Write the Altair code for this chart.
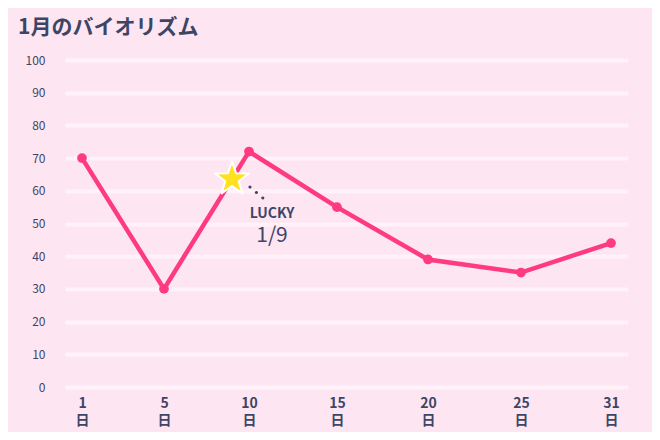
import altair as alt
import pandas as pd

# data
days = [1, 5, 10, 15, 20, 25, 31]
values = [70, 30, 72, 55, 39, 35, 44]
lucky_day = [9]
lucky_value = [63.6]
lucky_word = ["LUCKY"]
lucky_date = ["1/9"]
y_ticks = [0, 10, 20, 30, 40, 50, 60, 70, 80, 90, 100]

df = pd.DataFrame({"day": days, "value": values})
star_df = pd.DataFrame({"day": lucky_day, "value": lucky_value,
                        "word": lucky_word, "date": lucky_date})

FONT = "Noto Sans CJK JP"
INK = "#3d4566"
PINK = "#ff3b7f"
BG = "#fde5f1"

# piecewise x scale: day ticks are spaced roughly evenly across the plot
x_domain = [0.17] + days + [32.1]
x_range = [0, 17, 99, 184, 272, 363, 456, 546, 563]
x_scale = alt.Scale(type="linear", domain=x_domain, nice=False, zero=False,
                    range=x_range)
y_scale = alt.Scale(domain=[0, 100], nice=False, zero=True)

x_axis = alt.Axis(values=days, title=None, grid=False, domain=False,
                  ticks=False, tickSize=0, labelPadding=9,
                  labelExpr="[datum.label, '日']",
                  labelFontSize=14, labelFontWeight="bold",
                  labelLineHeight=17, labelColor=INK, labelFont=FONT,
                  labelAngle=0, labelOverlap=False, labelFlush=False)
y_axis = alt.Axis(values=y_ticks, title=None, domain=False,
                  ticks=False, tickSize=0, labelPadding=20,
                  labelFontSize=12, labelFontWeight="normal",
                  labelColor=INK, labelFont=FONT, labelOverlap=False,
                  labelFlush=False,
                  grid=True, gridColor="#fff2f8", gridWidth=4)


def xe():
    return alt.X("day:Q", scale=x_scale, axis=x_axis)


def ye():
    return alt.Y("value:Q", scale=y_scale, axis=y_axis)


line = alt.Chart(df).mark_line(color=PINK, strokeWidth=4.5).encode(x=xe(), y=ye())
pts = alt.Chart(df).mark_circle(color=PINK, size=95, opacity=1).encode(x=xe(), y=ye())

star_path = ("M0,-1L0.235,-0.324L0.951,-0.309L0.38,0.124L0.588,0.809"
             "L0,0.4L-0.588,0.809L-0.38,0.124L-0.951,-0.309L-0.235,-0.324Z")
star = alt.Chart(star_df).mark_point(
    shape=star_path, filled=True, fill="#ffe11f", stroke="#ffffff",
    strokeWidth=2, strokeJoin="round", size=1250, opacity=1
).encode(x=xe(), y=ye())

dots = alt.Chart(star_df).mark_rule(
    color=INK, strokeWidth=3, strokeCap="round", strokeDash=[0.01, 8.4],
    xOffset=18, yOffset=8, x2Offset=32, y2Offset=20
).encode(x=xe(), y=ye(), x2="day:Q", y2="value:Q")

word = alt.Chart(star_df).mark_text(
    font=FONT, fontSize=14, fontWeight="bold", color=INK, dx=40, dy=35,
    baseline="middle", align="center"
).encode(x=xe(), y=ye(), text="word:N")

date = alt.Chart(star_df).mark_text(
    font=FONT, fontSize=21, fontWeight="normal", color=INK, dx=40, dy=57,
    baseline="middle", align="center"
).encode(x=xe(), y=ye(), text="date:N")

chart = alt.layer(line, pts, dots, star, word, date).properties(
    width=563, height=327,
    autosize=alt.AutoSizeParams(type="none"),
    padding={"left": 57, "top": 52, "right": 24, "bottom": 45},
    background=BG,
    title=alt.TitleParams("1月のバイオリズム", anchor="start", frame="group",
                          dx=-47, offset=16, fontSize=21, fontWeight="bold",
                          font=FONT, color=INK),
).configure_view(stroke=None)

chart.save("out.html", embed_options={"renderer": "svg", "actions": False})
